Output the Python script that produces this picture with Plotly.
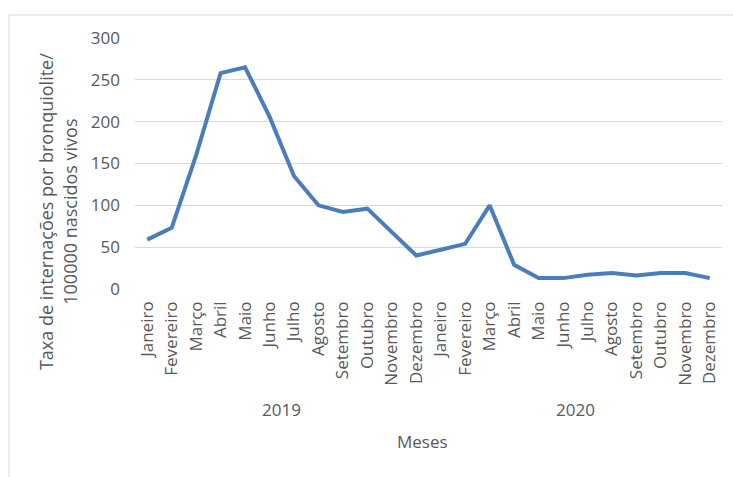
import plotly.graph_objects as go

months = ["Janeiro", "Fevereiro", "Março", "Abril", "Maio", "Junho", "Julho",
          "Agosto", "Setembro", "Outubro", "Novembro", "Dezembro"]
years = ["2019", "2020"]
labels = months + months
values = [59, 73, 160, 258, 265, 206, 135, 100, 92, 96, 68, 40,
          47, 54, 100, 29, 13, 13, 17, 19, 16, 19, 19, 13]
yticks = [0, 50, 100, 150, 200, 250, 300]

x = list(range(len(values)))
FONT = "Open Sans"
GRAY = "#595959"

fig = go.Figure()
fig.add_trace(go.Scatter(x=x, y=values, mode="lines",
                         line=dict(color="#4a7ebb", width=4),
                         showlegend=False, hoverinfo="skip"))

fig.update_layout(
    width=733, height=477,
    margin=dict(l=135, r=11, t=38, b=188),
    paper_bgcolor="white", plot_bgcolor="white",
    font=dict(family=FONT, color=GRAY, size=17),
    xaxis=dict(range=[-0.5, len(values) - 0.5], tickvals=x, ticktext=labels,
               tickangle=-90, showgrid=False, zeroline=False, showline=False,
               ticks="", ticklabelstandoff=8, tickfont=dict(size=17, color=GRAY)),
    yaxis=dict(range=[0, 300], tickvals=yticks, showgrid=True, gridcolor="#d9d9d9",
               gridwidth=1, zeroline=False, showline=False, ticks="",
               ticklabelstandoff=14, tickfont=dict(size=17, color=GRAY)),
)

for i, yr in enumerate(years):
    fig.add_annotation(x=i * 12 + 5.5, xref="x", y=-0.482, yref="paper",
                       text=yr, showarrow=False, font=dict(size=17, color=GRAY),
                       xanchor="center", yanchor="middle")

fig.add_annotation(x=0.49, xref="paper", y=-0.606, yref="paper", text="Meses",
                   showarrow=False, font=dict(size=17, color=GRAY),
                   xanchor="center", yanchor="middle")

fig.add_annotation(x=-0.131, xref="paper", y=0.307, yref="paper",
                   text="Taxa de internações por bronquiolite/<br>100000 nascidos vivos",
                   textangle=-90, showarrow=False, font=dict(size=18, color=GRAY),
                   xanchor="center", yanchor="middle")

fig.add_shape(type="rect", xref="paper", yref="paper",
              x0=-0.2147, x1=1.03, y0=-0.8, y1=1.0916,
              line=dict(color="#d9d9d9", width=1), fillcolor="rgba(0,0,0,0)",
              layer="below")

fig.write_html("out.html")
